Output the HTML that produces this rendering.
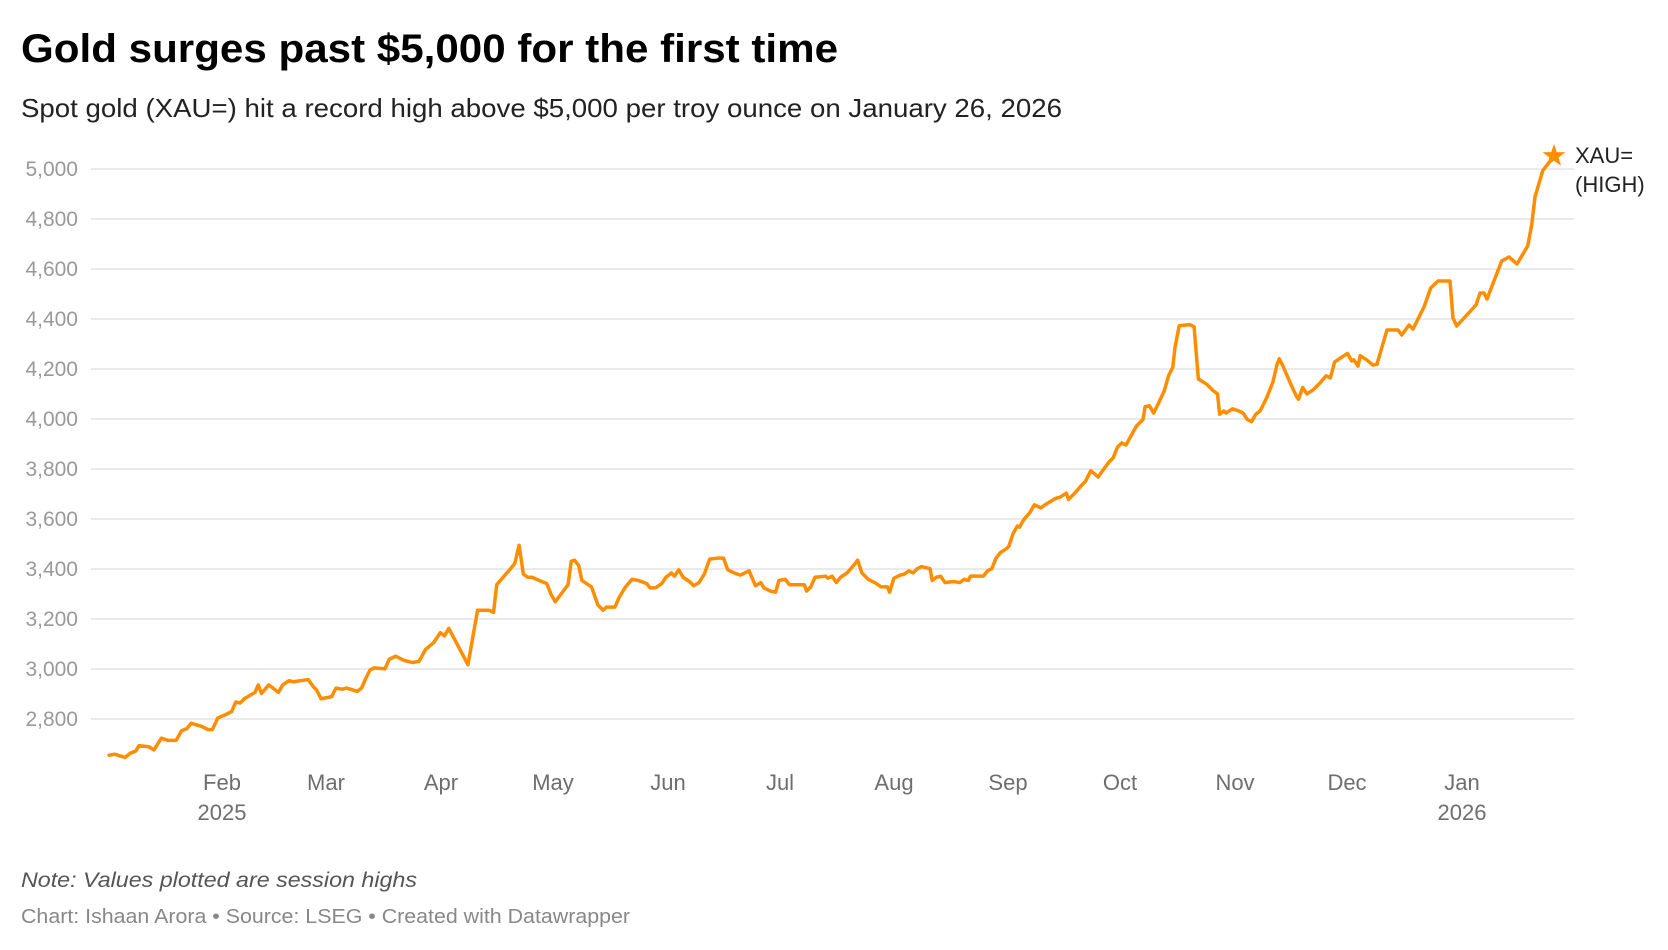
<!DOCTYPE html>
<html><head><meta charset="utf-8"><style>
html,body{margin:0;padding:0;background:#fff;}
svg{display:block;}
</style></head><body>
<svg width="1668" height="950" viewBox="0 0 1668 950" xmlns="http://www.w3.org/2000/svg" font-family="'Liberation Sans', sans-serif">
<text x="21" y="62" font-size="40" font-weight="bold" fill="#000" textLength="817" lengthAdjust="spacingAndGlyphs">Gold surges past $5,000 for the first time</text>
<text x="21" y="117" font-size="26" fill="#222" textLength="1041" lengthAdjust="spacingAndGlyphs">Spot gold (XAU=) hit a record high above $5,000 per troy ounce on January 26, 2026</text>
<g stroke="#e3e3e3" stroke-width="1.5">
<line x1="91" x2="1574" y1="169" y2="169"/><line x1="91" x2="1574" y1="219" y2="219"/>
<line x1="91" x2="1574" y1="269" y2="269"/><line x1="91" x2="1574" y1="319" y2="319"/>
<line x1="91" x2="1574" y1="369" y2="369"/><line x1="91" x2="1574" y1="419" y2="419"/>
<line x1="91" x2="1574" y1="469" y2="469"/><line x1="91" x2="1574" y1="519" y2="519"/>
<line x1="91" x2="1574" y1="569" y2="569"/><line x1="91" x2="1574" y1="619" y2="619"/>
<line x1="91" x2="1574" y1="669" y2="669"/><line x1="91" x2="1574" y1="719" y2="719"/>
</g>
<g font-size="21" fill="#999" text-anchor="end">
<text x="78" y="176">5,000</text><text x="78" y="226">4,800</text><text x="78" y="276">4,600</text>
<text x="78" y="326">4,400</text><text x="78" y="376">4,200</text><text x="78" y="426">4,000</text>
<text x="78" y="476">3,800</text><text x="78" y="526">3,600</text><text x="78" y="576">3,400</text>
<text x="78" y="626">3,200</text><text x="78" y="676">3,000</text><text x="78" y="726">2,800</text>
</g>
<g font-size="22" fill="#6e6e6e" text-anchor="middle">
<text x="222" y="790">Feb</text><text x="222" y="820">2025</text>
<text x="326" y="790">Mar</text><text x="441" y="790">Apr</text>
<text x="553" y="790">May</text><text x="668" y="790">Jun</text>
<text x="780" y="790">Jul</text><text x="894" y="790">Aug</text>
<text x="1008" y="790">Sep</text><text x="1120" y="790">Oct</text>
<text x="1235" y="790">Nov</text><text x="1347" y="790">Dec</text>
<text x="1462" y="790">Jan</text><text x="1462" y="820">2026</text>
</g>
<g fill="none" stroke="#ff8d00" stroke-width="3.5" stroke-linejoin="round" stroke-linecap="round">
<path transform="matrix(1.0647,0,0,1.0659,-0.5,0.6)" vector-effect="non-scaling-stroke" d="M103,708 L108,707 118,710 123,706 128,704 131,699 140,700 145,703 152,692 158,694 166,694 171,685 176,683 180,678 190,681 196,684 200,684 205,673 212,670 218,667 222,658 226,659 230,655 240,649 243,642 246,650 253,642 262,649 266,642 272,638 276,639 290,637 295,644 298,647 302,655 312,653 316,645 322,646 326,645 336,648 340,645 344,636 348,628 352,626 362,627 366,618 372,615 380,619 388,621 394,620 400,609 408,602 414,593 418,596 422,589 440,623 449,572 460,572 464,574 467,548 473,541 480,533 484,528 488,511 492,538 496,541 500,541 514,547 518,557 522,564 528,556 534,548 537,526 540,525 544,530 547,544 556,550 562,567 567,572 570,569 578,569 582,560 588,550 594,543 600,544 608,547 611,551 616,551 622,547 626,541 631,537 634,540 638,534 642,541 648,545 652,549 657,546 662,538 667,524 675,523 680,523 684,534 690,537 696,539 704,535 710,549 715,546 718,551 724,554 729,555 732,544 738,543 742,548 752,548 756,548 758,554 762,550 766,541 776,540 778,542 782,540 786,546 790,541 796,537 803,529 806,525 810,537 816,543 822,546 828,550 834,550 836,555 840,542 846,539 850,538 854,535 858,537 862,533 866,531 874,533 876,544 880,541 884,540 888,546 896,545 902,546 906,543 910,544 912,540 920,540 924,540 928,535 932,533 936,523 940,518 946,514 948,512 952,500 956,493 958,494 962,487 968,480 972,473 978,476 982,473 992,467 996,466 1002,462 1004,468 1010,462 1016,455 1020,451 1025,441 1032,447 1036,441 1042,433 1046,429 1050,419 1054,415 1058,417 1064,406 1068,399 1074,393 1076,381 1080,380 1084,387 1088,379 1094,366 1098,352 1102,344 1104,326 1108,305 1118,304 1122,306 1126,355 1134,360 1140,366 1144,369 1146,388 1150,385 1152,387 1158,383 1164,385 1168,387 1172,393 1176,395 1180,388 1184,385 1190,373 1196,358 1200,341 1202,336 1206,344 1212,358 1218,371 1220,374 1224,363 1228,369 1234,365 1240,359 1246,352 1250,354 1254,339 1260,335 1266,331 1270,338 1272,337 1276,343 1278,333 1284,337 1290,342 1294,341"/>
<path d="M1377,364 L1381.7,348 1387,330 1398,330 1401.7,335 1409,325 1413,329 1424,307 1430.7,288 1438,281 1450,281 1453,318 1456.7,326 1476,305 1480,293 1484,293 1487,299 1501.7,261 1509,257 1517,264 1527.7,246 1531.7,225 1535,197 1542.7,170.7 1554,156"/>
</g>
<polygon fill="#ff8d00" points="1554,144 1556.8,152.1 1565.4,152.3 1558.6,157.5 1561.1,165.7 1554,160.8 1546.9,165.7 1549.4,157.5 1542.6,152.3 1551.2,152.1"/>
<g font-size="22" fill="#222">
<text x="1575" y="163">XAU=</text><text x="1575" y="192">(HIGH)</text>
</g>
<text x="21" y="887" font-size="21" font-style="italic" fill="#555" textLength="396" lengthAdjust="spacingAndGlyphs">Note: Values plotted are session highs</text>
<text x="21" y="923" font-size="20" fill="#888" textLength="609" lengthAdjust="spacingAndGlyphs">Chart: Ishaan Arora • Source: LSEG • Created with Datawrapper</text>
</svg>
</body></html>
